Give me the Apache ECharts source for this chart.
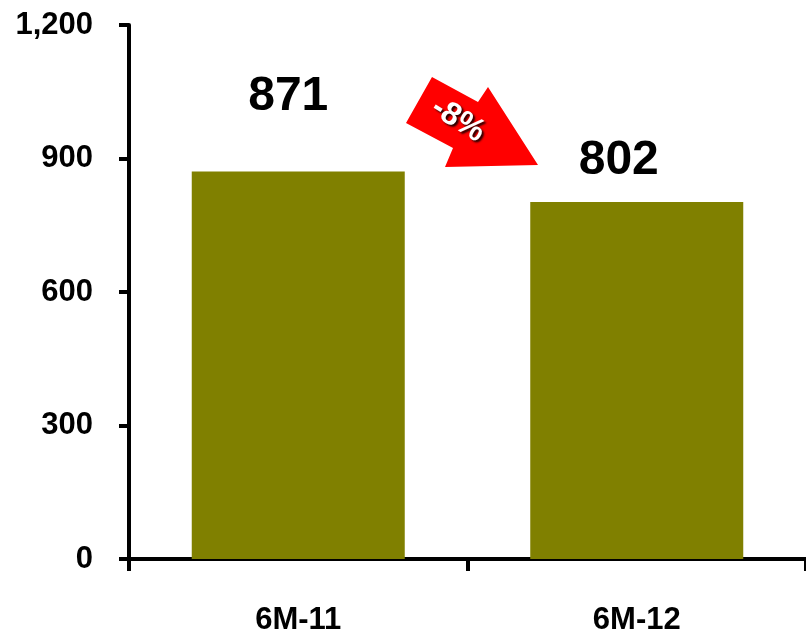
<!DOCTYPE html>
<html><head><meta charset="utf-8">
<script src="https://cdn.jsdelivr.net/npm/echarts@6/dist/echarts.min.js"></script>
<style>html,body{margin:0;padding:0;background:#fff}#c{width:806px;height:636px}</style>
</head><body><div id="c"></div>
<script>
const categories = ['6M-11', '6M-12'];
const values = [871, 802];
const yTicks = [0, 300, 600, 900, 1200];
const changeLabel = '-8%';

const FONT = '"Liberation Sans", Arial, sans-serif';
const labelPos = [
  { position: ['50%', -75], offset: [-10, 0] },
  { position: ['50%', -41], offset: [-18, 0] }
];
const chart = echarts.init(document.getElementById('c'));
chart.setOption({
  animation: false,
  grid: { left: 129, right: -5, top: 25, bottom: 76 },
  xAxis: {
    type: 'category', data: categories,
    axisLine: { lineStyle: { color: '#000', width: 4 } },
    axisTick: { show: true, length: 12, lineStyle: { color: '#000', width: 4 } },
    axisLabel: { color: '#000', fontFamily: FONT, fontWeight: 'bold', fontSize: 31, margin: 46 }
  },
  yAxis: {
    type: 'value', min: yTicks[0], max: yTicks[yTicks.length - 1], interval: 300,
    splitLine: { show: false },
    axisLine: { show: true, lineStyle: { color: '#000', width: 4 } },
    axisTick: { show: true, length: 10, lineStyle: { color: '#000', width: 4 } },
    axisLabel: { color: '#000', fontFamily: FONT, fontWeight: 'bold', fontSize: 31, margin: 36,
      formatter: v => v.toLocaleString('en-US') }
  },
  series: [{
    type: 'bar', barWidth: 213,
    itemStyle: { color: '#808000' },
    data: values.map((v, i) => ({
      value: v,
      label: {
        show: true, position: labelPos[i].position, offset: labelPos[i].offset,
        align: 'center', verticalAlign: 'middle',
        color: '#000', fontFamily: FONT, fontWeight: 'bold', fontSize: 48
      }
    }))
  }],
  graphic: [
    { type: 'polygon', shape: { points: [[432,77],[478,102],[488,87],[538,165],[445,167],[453,148],[406,123]] },
      style: { fill: '#ff0000' } },
    { type: 'text', x: 458, y: 120, rotation: -32 * Math.PI / 180,
      style: { text: changeLabel, fill: '#fff', font: 'bold 32px ' + FONT, align: 'center', verticalAlign: 'middle',
        textShadowColor: 'rgba(0,0,0,0.85)', textShadowOffsetX: 2, textShadowOffsetY: 2, textShadowBlur: 2 } }
  ]
});
</script></body></html>
